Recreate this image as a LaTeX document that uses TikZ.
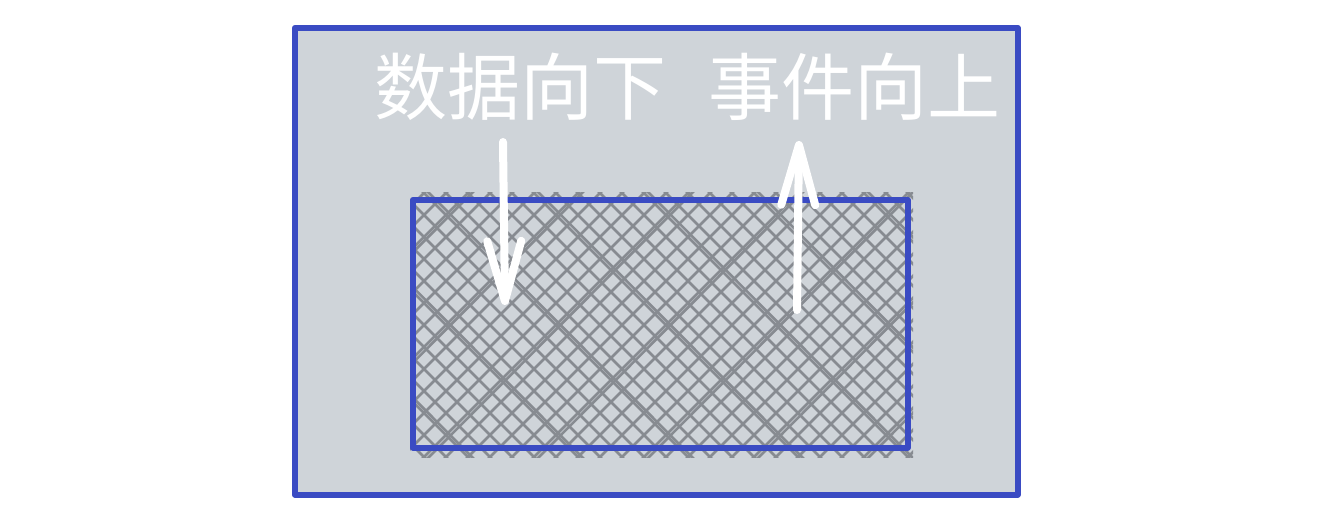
\documentclass[tikz,border=0pt]{standalone}
\usepackage{fontspec}
\newfontfamily\cjk{Noto Sans CJK SC}
\usetikzlibrary{arrows.meta}
\definecolor{bgray}{HTML}{CFD4D9}
\definecolor{bblue}{HTML}{3A4BC3}
\definecolor{hgray}{HTML}{878B91}
\tikzset{
  frame/.style={draw=bblue, line width=2.8pt, line join=round},
  hatch/.style={draw=hgray, line width=1.3pt},
  label/.style={text=white, font=\cjk\fontsize{36.5}{40}\selectfont, inner sep=0pt},
  flow/.style={draw=white, line width=4pt, line cap=round, line join=round,
    -{Straight Barb[length=30pt, width=17pt, line width=4pt, round]}}
}
\begin{document}
\begin{tikzpicture}[x=0.5pt,y=-0.5pt]
\useasboundingbox (0,0) rectangle (1344,507);
\node[frame, fill=bgray, minimum width=361.5pt, minimum height=233.5pt, inner sep=0pt, anchor=north west] (outer) at (292,25) {};
\begin{scope}
  \clip (410,193) rectangle (913,458);
  \foreach \i in {0,22,...,800} {
    \draw[hatch] (410+\i-275,460) -- (410+\i,185);
    \draw[hatch] (405+\i-275,185) -- (405+\i,460);
  }
  \foreach \i in {66,176,...,800} {
    \draw[hatch] (415+\i-275,460) -- (414+\i,185);
    \draw[hatch] (410+\i-275,185) -- (409+\i,460);
  }
\end{scope}
\node[frame, minimum width=247.5pt, minimum height=124pt, inner sep=0pt, anchor=north west] (inner) at (410,197) {};
\node[label] (down) at (520,87) {数据向下};
\node[label] (up) at (854,87) {事件向上};
\coordinate (d1) at (503,142);
\coordinate (d2) at (505,305);
\coordinate (u1) at (797,310);
\coordinate (u2) at (799,141);
\draw[flow] (d1) -- (d2);
\draw[flow] (u1) -- (u2);
\end{tikzpicture}
\end{document}
